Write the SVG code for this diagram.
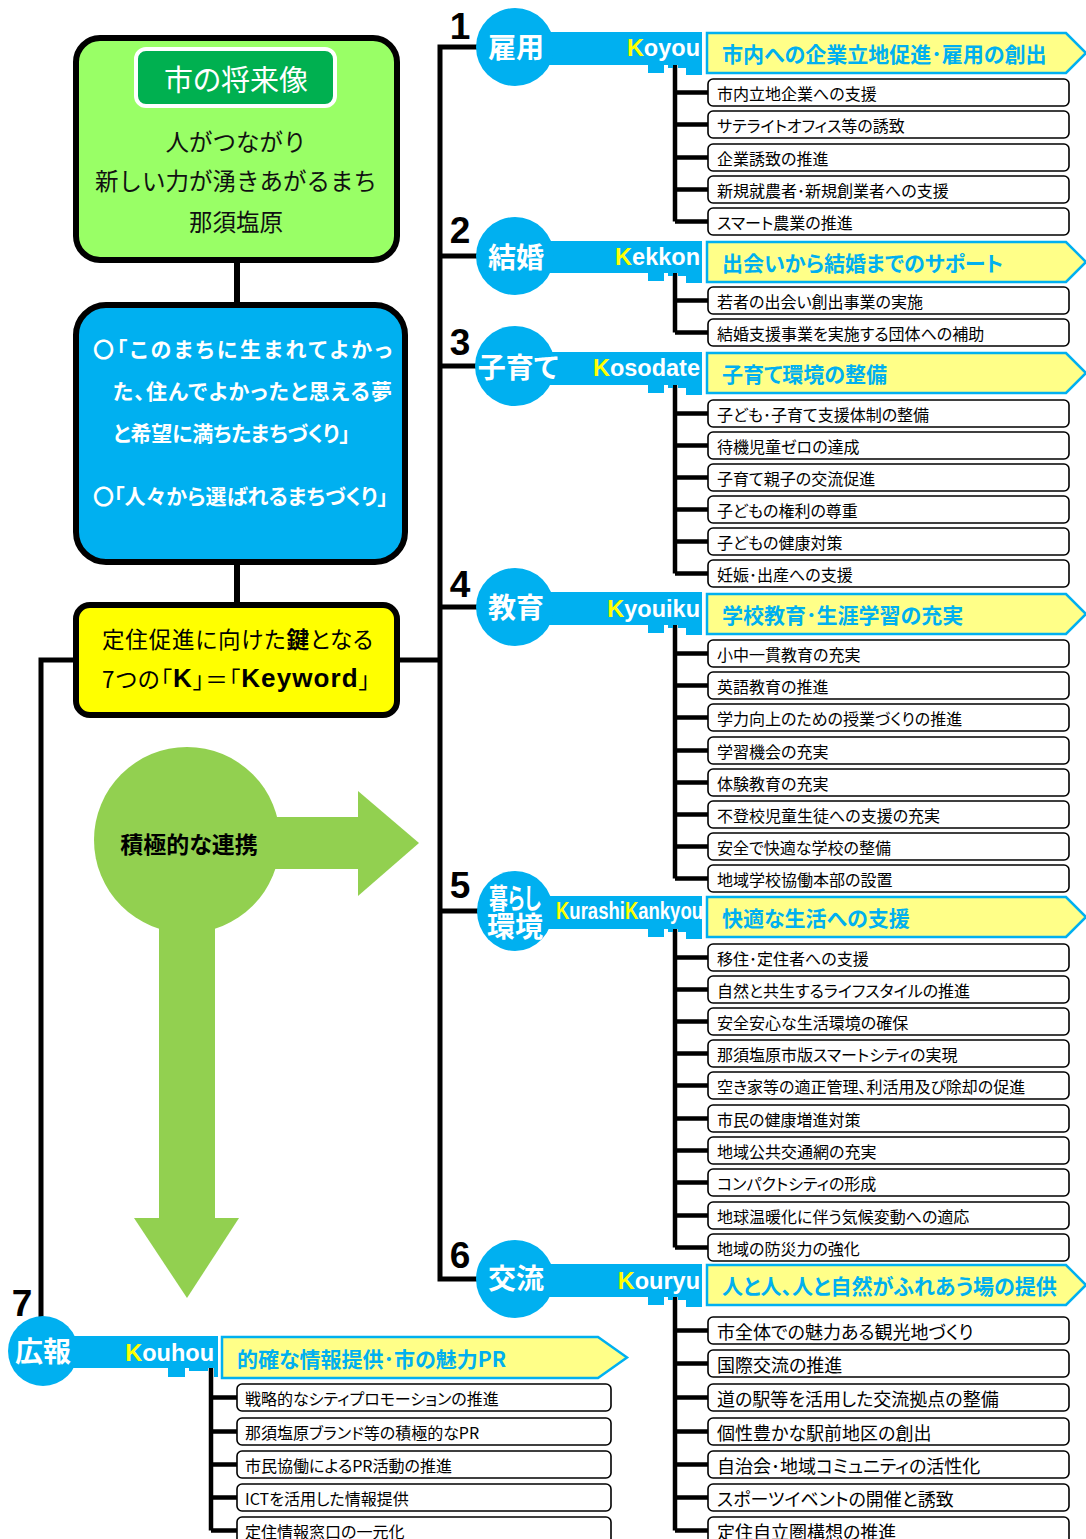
<svg xmlns="http://www.w3.org/2000/svg" width="1086" height="1539" viewBox="0 0 1086 1539">
<style>
.jp{font-family:'Noto Sans CJK JP','Noto Sans',sans-serif;font-feature-settings:"palt"}
.key{fill:#00B0F0}
.kt{font-family:'Noto Sans CJK JP',sans-serif;font-weight:700;fill:#fff;font-size:28px;text-anchor:middle;dominant-baseline:central;font-feature-settings:"palt"}
.rom{font-family:'Liberation Sans',Arial,sans-serif;font-weight:700;fill:#fff;font-size:23.5px;text-anchor:end}
.Y{fill:#FFFF00}
.num{font-family:'Liberation Sans',Arial,sans-serif;font-weight:700;font-size:37px;fill:#000;text-anchor:middle}
.ban{fill:#FFFF88;stroke:#00B0F0;stroke-width:2.5}
.bt{font-family:'Noto Sans CJK JP',sans-serif;font-weight:700;font-size:21px;fill:#00B0F0;dominant-baseline:central;font-feature-settings:"palt"}
.box{fill:#fff;stroke:#000;stroke-width:1.6}
.it{font-family:'Noto Sans CJK JP',sans-serif;font-size:16px;fill:#000;dominant-baseline:central;font-feature-settings:"palt"}
.it6{font-size:18px}
.ln{stroke:#000;stroke-width:5;fill:none}
.br{stroke:#000;stroke-width:4.5;fill:none}
.vis{font-family:'Noto Sans CJK JP',sans-serif;font-size:23.5px;fill:#111;text-anchor:middle;dominant-baseline:central}
</style>

<!-- connectors -->
<g id="connectors">
  <path class="ln" d="M480,47 H440 V1279 H480"/>
  <path class="ln" d="M440,256 H480 M440,366 H480 M440,607 H480 M440,911 H480"/>
  <path class="ln" d="M397,660 H440"/>
  <path class="ln" d="M76,660 H41 V1318"/>
  <path class="ln" d="M237,260 V305 M237,562 V605" style="stroke-width:6"/>
  <path class="br" d="M675,64 V221.5 M675,92.5 H708 M675,124.5 H708 M675,157.5 H708 M675,189.5 H708 M675,221.5 H708"/>
  <path class="br" d="M675,272 V332.5 M675,300.5 H708 M675,332.5 H708"/>
  <path class="br" d="M675,382 V573.5 M675,413.5 H708 M675,445.5 H708 M675,477.5 H708 M675,509.5 H708 M675,541.5 H708 M675,573.5 H708"/>
  <path class="br" d="M675,623 V878.5 M675,653.5 H708 M675,685.5 H708 M675,717.5 H708 M675,750.5 H708 M675,782.5 H708 M675,814.5 H708 M675,846.5 H708 M675,878.5 H708"/>
  <path class="br" d="M675,927 V1247.5 M675,957.5 H708 M675,989.5 H708 M675,1021.5 H708 M675,1053.5 H708 M675,1085.5 H708 M675,1118.5 H708 M675,1150.5 H708 M675,1182.5 H708 M675,1215.5 H708 M675,1247.5 H708"/>
  <path class="br" d="M675,1295 V1530.5 M675,1330.5 H708 M675,1363.5 H708 M675,1397.5 H708 M675,1431.5 H708 M675,1464.5 H708 M675,1497.5 H708 M675,1530.5 H708"/>
  <path class="br" d="M211,1367 V1530.5 M211,1397.5 H237 M211,1431.5 H237 M211,1464.5 H237 M211,1497.5 H237 M211,1530.5 H237"/>
</g>

<!-- left panel -->
<g id="vision">
  <rect x="76" y="38" width="321" height="222" rx="24" fill="#99FF66" stroke="#000" stroke-width="6"/>
  <rect x="136" y="49" width="199" height="57" rx="10" fill="#00B050" stroke="#fff" stroke-width="4"/>
  <text class="jp" x="236" y="78" font-size="29" fill="#fff" text-anchor="middle" dominant-baseline="central">市の将来像</text>
  <text class="vis" x="236" y="141">人がつながり</text>
  <text class="vis" x="236" y="180">新しい力が湧きあがるまち</text>
  <text class="vis" x="236" y="221">那須塩原</text>
</g>

<g id="goals">
  <rect x="76" y="305" width="329" height="257" rx="30" fill="#00B0F0" stroke="#000" stroke-width="6"/>
  <g class="jp" font-size="21" font-weight="700" fill="#fff" dominant-baseline="central">
    <text x="93" y="348" textLength="299">〇「このまちに生まれてよかっ</text>
    <text x="113" y="390" textLength="279">た、住んでよかったと思える夢</text>
    <text x="113" y="432" textLength="237">と希望に満ちたまちづくり」</text>
    <text x="93" y="495" textLength="295">〇「人々から選ばれるまちづくり」</text>
  </g>
</g>

<g id="keyword">
  <rect x="76" y="605" width="321" height="110" rx="14" fill="#FFFF00" stroke="#000" stroke-width="6"/>
  <text class="jp" x="102" y="638" font-size="22.5" fill="#000" dominant-baseline="central" textLength="271">定住促進に向けた<tspan font-weight="700">鍵</tspan>となる</text>
  <text class="jp" x="102" y="678" font-size="22.5" fill="#000" dominant-baseline="central" textLength="268">7つの「<tspan font-family="'Liberation Sans',Arial,sans-serif" font-weight="700" font-size="26">K</tspan>」＝「<tspan font-family="'Liberation Sans',Arial,sans-serif" font-weight="700" font-size="26">Keyword</tspan>」</text>
</g>

<g id="renkei">
  <circle cx="187" cy="840" r="93" fill="#92D050"/>
  <rect x="255" y="817" width="104" height="52" fill="#92D050"/>
  <polygon points="358,791 419,843 358,896" fill="#92D050"/>
  <rect x="159" y="900" width="56" height="320" fill="#92D050"/>
  <polygon points="134,1218 239,1218 187,1298" fill="#92D050"/>
  <text class="jp" x="189" y="843" font-size="23" font-weight="700" fill="#000" text-anchor="middle" dominant-baseline="central">積極的な連携</text>
</g>

<!-- key 1 -->
<g id="key1">
  <text class="num" x="460" y="39">1</text>
  <rect class="key" x="515" y="32" width="187" height="33"/>
  <path class="key" d="M648,64 h16 v9 h-16z M668,64 h5 v4 h-5z M678,64 h24 v4 h-24z M686,64 h16 v11 h-16z"/>
  <circle class="key" cx="515" cy="47" r="39"/>
  <text class="kt" x="516" y="46">雇用</text>
  <text class="rom" x="700" y="56"><tspan class="Y">K</tspan>oyou</text>
</g>
<g id="banner1"><polygon class="ban" points="707,33 1066,33 1086,53 1066,73 707,73"/><text class="bt" x="722" y="53" font-size="20.5">市内への企業立地促進･雇用の創出</text></g>
<g id="items1">
  <rect class="box" x="708" y="79" width="361" height="27" rx="5"/><text class="it" x="717" y="92.5">市内立地企業への支援</text>
  <rect class="box" x="708" y="111" width="361" height="27" rx="5"/><text class="it" x="717" y="124.5">サテライトオフィス等の誘致</text>
  <rect class="box" x="708" y="144" width="361" height="27" rx="5"/><text class="it" x="717" y="157.5">企業誘致の推進</text>
  <rect class="box" x="708" y="176" width="361" height="27" rx="5"/><text class="it" x="717" y="189.5">新規就農者･新規創業者への支援</text>
  <rect class="box" x="708" y="208" width="361" height="27" rx="5"/><text class="it" x="717" y="221.5">スマート農業の推進</text>
</g>

<!-- key 2 -->
<g id="key2">
  <text class="num" x="460" y="243">2</text>
  <rect class="key" x="515" y="241" width="187" height="32"/>
  <path class="key" d="M648,272 h16 v9 h-16z M668,272 h5 v4 h-5z M678,272 h24 v4 h-24z M686,272 h16 v11 h-16z"/>
  <circle class="key" cx="515" cy="256" r="39"/>
  <text class="kt" x="516" y="256">結婚</text>
  <text class="rom" x="700" y="265"><tspan class="Y">K</tspan>ekkon</text>
</g>
<g id="banner2"><polygon class="ban" points="707,242 1066,242 1086,262 1066,282 707,282"/><text class="bt" x="722" y="262">出会いから結婚までのサポート</text></g>
<g id="items2">
  <rect class="box" x="708" y="287" width="361" height="27" rx="5"/><text class="it" x="717" y="300.5">若者の出会い創出事業の実施</text>
  <rect class="box" x="708" y="319" width="361" height="27" rx="5"/><text class="it" x="717" y="332.5">結婚支援事業を実施する団体への補助</text>
</g>

<!-- key 3 -->
<g id="key3">
  <text class="num" x="460" y="355">3</text>
  <rect class="key" x="515" y="352" width="187" height="33"/>
  <path class="key" d="M648,384 h16 v9 h-16z M668,384 h5 v4 h-5z M678,384 h24 v4 h-24z M686,384 h16 v11 h-16z"/>
  <circle class="key" cx="515" cy="366" r="40"/>
  <text class="kt" x="518" y="366">子育て</text>
  <text class="rom" x="700" y="376"><tspan class="Y">K</tspan>osodate</text>
</g>
<g id="banner3"><polygon class="ban" points="707,353 1066,353 1086,373 1066,393 707,393"/><text class="bt" x="722" y="373">子育て環境の整備</text></g>
<g id="items3">
  <rect class="box" x="708" y="400" width="361" height="27" rx="5"/><text class="it" x="717" y="413.5">子ども･子育て支援体制の整備</text>
  <rect class="box" x="708" y="432" width="361" height="27" rx="5"/><text class="it" x="717" y="445.5">待機児童ゼロの達成</text>
  <rect class="box" x="708" y="464" width="361" height="27" rx="5"/><text class="it" x="717" y="477.5">子育て親子の交流促進</text>
  <rect class="box" x="708" y="496" width="361" height="27" rx="5"/><text class="it" x="717" y="509.5">子どもの権利の尊重</text>
  <rect class="box" x="708" y="528" width="361" height="27" rx="5"/><text class="it" x="717" y="541.5">子どもの健康対策</text>
  <rect class="box" x="708" y="560" width="361" height="27" rx="5"/><text class="it" x="717" y="573.5">妊娠･出産への支援</text>
</g>

<!-- key 4 -->
<g id="key4">
  <text class="num" x="460" y="597">4</text>
  <rect class="key" x="515" y="592" width="187" height="33"/>
  <path class="key" d="M648,624 h16 v9 h-16z M668,624 h5 v4 h-5z M678,624 h24 v4 h-24z M686,624 h16 v11 h-16z"/>
  <circle class="key" cx="515" cy="607" r="39"/>
  <text class="kt" x="516" y="606">教育</text>
  <text class="rom" x="700" y="617"><tspan class="Y">K</tspan>youiku</text>
</g>
<g id="banner4"><polygon class="ban" points="707,594 1066,594 1086,614 1066,634 707,634"/><text class="bt" x="722" y="614">学校教育･生涯学習の充実</text></g>
<g id="items4">
  <rect class="box" x="708" y="640" width="361" height="27" rx="5"/><text class="it" x="717" y="653.5">小中一貫教育の充実</text>
  <rect class="box" x="708" y="672" width="361" height="27" rx="5"/><text class="it" x="717" y="685.5">英語教育の推進</text>
  <rect class="box" x="708" y="704" width="361" height="27" rx="5"/><text class="it" x="717" y="717.5">学力向上のための授業づくりの推進</text>
  <rect class="box" x="708" y="737" width="361" height="27" rx="5"/><text class="it" x="717" y="750.5">学習機会の充実</text>
  <rect class="box" x="708" y="769" width="361" height="27" rx="5"/><text class="it" x="717" y="782.5">体験教育の充実</text>
  <rect class="box" x="708" y="801" width="361" height="27" rx="5"/><text class="it" x="717" y="814.5">不登校児童生徒への支援の充実</text>
  <rect class="box" x="708" y="833" width="361" height="27" rx="5"/><text class="it" x="717" y="846.5">安全で快適な学校の整備</text>
  <rect class="box" x="708" y="865" width="361" height="27" rx="5"/><text class="it" x="717" y="878.5">地域学校協働本部の設置</text>
</g>

<!-- key 5 -->
<g id="key5">
  <text class="num" x="460" y="898">5</text>
  <rect class="key" x="515" y="896" width="187" height="33"/>
  <path class="key" d="M648,928 h16 v9 h-16z M668,928 h5 v4 h-5z M678,928 h24 v4 h-24z M686,928 h16 v11 h-16z"/>
  <ellipse class="key" cx="515" cy="911" rx="38" ry="40"/>
  <text class="kt" x="515" y="897" font-size="20" textLength="52" lengthAdjust="spacingAndGlyphs">暮らし</text>
  <text class="kt" x="515" y="925" font-size="20">環境</text>
  <text class="rom" x="703" y="919" font-size="19" textLength="147" lengthAdjust="spacingAndGlyphs"><tspan class="Y">K</tspan>urashi<tspan class="Y">K</tspan>ankyou</text>
</g>
<g id="banner5"><polygon class="ban" points="707,897 1066,897 1086,917 1066,937 707,937"/><text class="bt" x="722" y="917">快適な生活への支援</text></g>
<g id="items5">
  <rect class="box" x="708" y="944" width="361" height="27" rx="5"/><text class="it" x="717" y="957.5">移住･定住者への支援</text>
  <rect class="box" x="708" y="976" width="361" height="27" rx="5"/><text class="it" x="717" y="989.5">自然と共生するライフスタイルの推進</text>
  <rect class="box" x="708" y="1008" width="361" height="27" rx="5"/><text class="it" x="717" y="1021.5">安全安心な生活環境の確保</text>
  <rect class="box" x="708" y="1040" width="361" height="27" rx="5"/><text class="it" x="717" y="1053.5">那須塩原市版スマートシティの実現</text>
  <rect class="box" x="708" y="1072" width="361" height="27" rx="5"/><text class="it" x="717" y="1085.5">空き家等の適正管理、利活用及び除却の促進</text>
  <rect class="box" x="708" y="1105" width="361" height="27" rx="5"/><text class="it" x="717" y="1118.5">市民の健康増進対策</text>
  <rect class="box" x="708" y="1137" width="361" height="27" rx="5"/><text class="it" x="717" y="1150.5">地域公共交通網の充実</text>
  <rect class="box" x="708" y="1169" width="361" height="27" rx="5"/><text class="it" x="717" y="1182.5">コンパクトシティの形成</text>
  <rect class="box" x="708" y="1202" width="361" height="27" rx="5"/><text class="it" x="717" y="1215.5">地球温暖化に伴う気候変動への適応</text>
  <rect class="box" x="708" y="1234" width="361" height="27" rx="5"/><text class="it" x="717" y="1247.5">地域の防災力の強化</text>
</g>

<!-- key 6 -->
<g id="key6">
  <text class="num" x="460" y="1268">6</text>
  <rect class="key" x="515" y="1264" width="187" height="33"/>
  <path class="key" d="M648,1296 h16 v9 h-16z M668,1296 h5 v4 h-5z M678,1296 h24 v4 h-24z M686,1296 h16 v11 h-16z"/>
  <circle class="key" cx="515" cy="1279" r="39"/>
  <text class="kt" x="516" y="1277">交流</text>
  <text class="rom" x="700" y="1289"><tspan class="Y">K</tspan>ouryu</text>
</g>
<g id="banner6"><polygon class="ban" points="707,1265 1066,1265 1086,1285 1066,1305 707,1305"/><text class="bt" x="722" y="1285">人と人、人と自然がふれあう場の提供</text></g>
<g id="items6">
  <rect class="box" x="708" y="1317" width="361" height="27" rx="5"/><text class="it it6" x="717" y="1330.5">市全体での魅力ある観光地づくり</text>
  <rect class="box" x="708" y="1350" width="361" height="27" rx="5"/><text class="it it6" x="717" y="1363.5">国際交流の推進</text>
  <rect class="box" x="708" y="1384" width="361" height="27" rx="5"/><text class="it it6" x="717" y="1397.5">道の駅等を活用した交流拠点の整備</text>
  <rect class="box" x="708" y="1418" width="361" height="27" rx="5"/><text class="it it6" x="717" y="1431.5">個性豊かな駅前地区の創出</text>
  <rect class="box" x="708" y="1451" width="361" height="27" rx="5"/><text class="it it6" x="717" y="1464.5">自治会･地域コミュニティの活性化</text>
  <rect class="box" x="708" y="1484" width="361" height="27" rx="5"/><text class="it it6" x="717" y="1497.5">スポーツイベントの開催と誘致</text>
  <rect class="box" x="708" y="1517" width="361" height="27" rx="5"/><text class="it it6" x="717" y="1530.5">定住自立圏構想の推進</text>
</g>

<!-- key 7 -->
<g id="key7">
  <text class="num" x="22" y="1316">7</text>
  <rect class="key" x="43" y="1336" width="175" height="32"/>
  <path class="key" d="M168,1367 h17 v10 h-17z M189,1367 h19 v4 h-19z M214,1367 h4 v10 h-4z"/>
  <circle class="key" cx="43" cy="1351" r="35"/>
  <text class="kt" x="43" y="1350">広報</text>
  <text class="rom" x="214" y="1361"><tspan class="Y">K</tspan>ouhou</text>
</g>
<g id="banner7"><polygon class="ban" points="222,1337 598,1337 627,1357.5 598,1378 222,1378"/><text class="bt" x="237" y="1358" font-size="22">的確な情報提供･市の魅力PR</text></g>
<g id="items7">
  <rect class="box" x="237" y="1384" width="374" height="27" rx="5"/><text class="it" x="245" y="1397.5">戦略的なシティプロモーションの推進</text>
  <rect class="box" x="237" y="1418" width="374" height="27" rx="5"/><text class="it" x="245" y="1431.5">那須塩原ブランド等の積極的なPR</text>
  <rect class="box" x="237" y="1451" width="374" height="27" rx="5"/><text class="it" x="245" y="1464.5">市民協働によるPR活動の推進</text>
  <rect class="box" x="237" y="1484" width="374" height="27" rx="5"/><text class="it" x="245" y="1497.5">ICTを活用した情報提供</text>
  <rect class="box" x="237" y="1517" width="374" height="27" rx="5"/><text class="it" x="245" y="1530.5">定住情報窓口の一元化</text>
</g>
</svg>
